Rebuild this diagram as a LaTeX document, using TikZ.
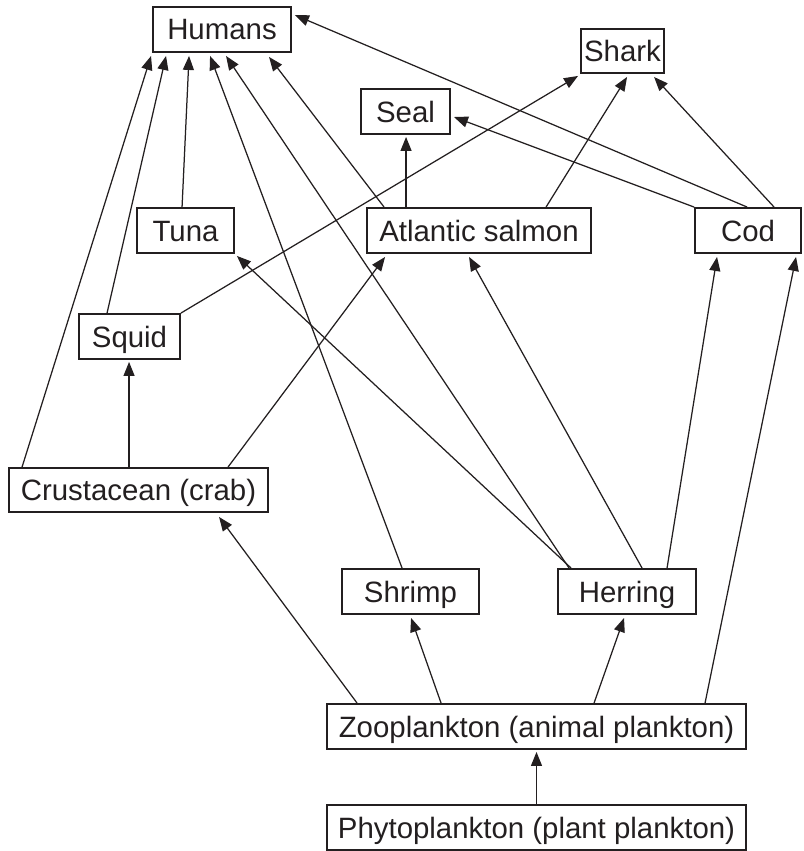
\documentclass[tikz,border=0pt]{standalone}
\usepackage{fontspec}
\setmainfont{Liberation Sans}
\usetikzlibrary{arrows.meta}
\definecolor{ink}{HTML}{231F20}
\begin{document}
\begin{tikzpicture}[x=1pt,y=-1pt,
  box/.style={draw=ink, line width=1.9pt, inner sep=0pt, minimum height=45pt,
    text height=21pt, text depth=0pt, font=\fontsize{29.4}{34}\selectfont, text=ink},
  arr/.style={draw=ink, line width=1.25pt, -{Triangle[length=14pt,width=11pt]}}]
\useasboundingbox (0,0) rectangle (803,851);
\node[box, minimum width=138pt] (humans) at (222,29.5) {Humans};
\node[box, minimum width=83pt, minimum height=44pt] (shark) at (622.5,51) {Shark};
\node[box, minimum width=89pt] (seal) at (405.5,111.5) {Seal};
\node[box, minimum width=97pt] (tuna) at (185.5,230.5) {Tuna};
\node[box, minimum width=224pt] (salmon) at (479,230.5) {Atlantic salmon};
\node[box, minimum width=106pt] (cod) at (748,230.5) {Cod};
\node[box, minimum width=101pt] (squid) at (129.5,336.5) {Squid};
\node[box, minimum width=259pt, minimum height=44pt] (crab) at (138.5,490) {Crustacean (crab)};
\node[box, minimum width=137pt] (shrimp) at (410.5,591.5) {Shrimp};
\node[box, minimum width=138pt] (herring) at (627,591.5) {Herring};
\node[box, minimum width=419pt] (zoo) at (536.5,726.5) {Zooplankton (animal plankton)};
\node[box, minimum width=419pt] (phyto) at (536.5,827.5) {Phytoplankton (plant plankton)};

\draw[arr] (phyto.north) -- ([yshift=-2pt]zoo.south);
\draw[arr] ([xshift=31pt]zoo.north west) -- ([xshift=211pt,yshift=-4pt]crab.south west);
\draw[arr] ([xshift=115pt]zoo.north west) -- ([xshift=70pt,yshift=-3pt]shrimp.south west);
\draw[arr] ([xshift=268pt]zoo.north west) -- ([xshift=67pt,yshift=-3pt]herring.south west);
\draw[arr] ([xshift=379pt]zoo.north west) -- ([xshift=102pt,yshift=-3pt]cod.south west);
\draw[arr] ([xshift=110pt]herring.north west) -- ([xshift=23pt,yshift=-3pt]cod.south west);
\draw[arr] ([xshift=85pt]herring.north west) -- ([xshift=103pt,yshift=-3pt]salmon.south west);
\draw[arr] ([xshift=14pt]herring.north west) -- ([xshift=2pt,yshift=-2pt]tuna.south east);
\draw[arr] ([xshift=12pt]herring.north west) -- ([xshift=74pt,yshift=-3pt]humans.south west);
\draw[arr] ([xshift=61pt]shrimp.north west) -- ([xshift=58pt,yshift=-3pt]humans.south west);
\draw[arr] ([xshift=121pt]crab.north west) -- ([xshift=51pt,yshift=-2pt]squid.south west);
\draw[arr] ([xshift=220pt]crab.north west) -- ([xshift=19pt,yshift=-3pt]salmon.south west);
\draw[arr] ([xshift=14pt]crab.north west) -- ([xshift=-1pt,yshift=-3pt]humans.south west);
\draw[arr] ([xshift=29pt]squid.north west) -- ([xshift=14pt,yshift=-3pt]humans.south west);
\draw[arr] (squid.north east) -- ([xshift=-2pt,yshift=-2pt]shark.south west);
\draw[arr] ([xshift=46pt]tuna.north west) -- ([xshift=37pt,yshift=-3pt]humans.south west);
\draw[arr] ([xshift=18pt]salmon.north west) -- ([xshift=117pt,yshift=-4pt]humans.south west);
\draw[arr] ([xshift=40pt]salmon.north west) -- ([xshift=46pt,yshift=-2pt]seal.south west);
\draw[arr] ([xshift=180pt]salmon.north west) -- ([xshift=47pt,yshift=-3pt]shark.south west);
\draw[arr] ([xshift=53pt]cod.north west) -- ([xshift=3pt,yshift=-9pt]humans.north east);
\draw[arr] (cod.north west) -- ([xshift=3pt,yshift=-5.5pt]seal.east);
\draw[arr] ([xshift=80pt]cod.north west) -- ([xshift=74pt,yshift=-3pt]shark.south west);
\end{tikzpicture}
\end{document}
